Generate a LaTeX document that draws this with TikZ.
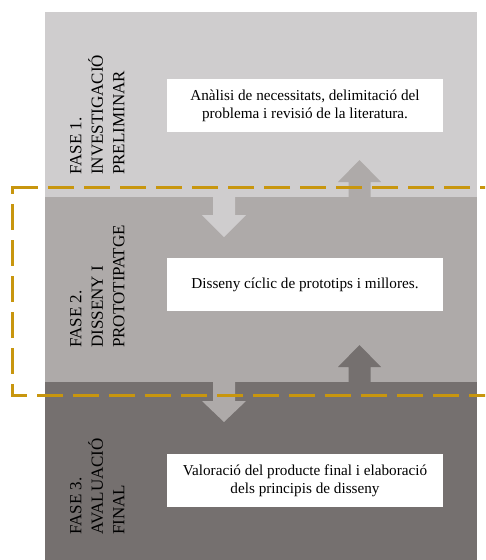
\documentclass[tikz,border=0pt]{standalone}
\usepackage{fontspec}
\setmainfont{Liberation Serif}
\definecolor{bandA}{RGB}{207,205,206}
\definecolor{bandB}{RGB}{174,170,169}
\definecolor{bandC}{RGB}{117,112,111}
\definecolor{gold}{RGB}{200,150,14}
\tikzset{
  band/.style={draw=none, inner sep=0, outer sep=0},
  textbox/.style={fill=white, draw=none, minimum width=276pt, minimum height=53pt, align=center, inner sep=0,
    font=\fontsize{15.2}{18}\selectfont},
  phaselabel/.style={rotate=90, anchor=north west, align=left, inner sep=0,
    font=\fontsize{17}{21.5}\selectfont},
  golddash/.style={draw=gold, line width=3pt, dash pattern=on 26pt off 10pt}
}
\begin{document}
\begin{tikzpicture}[x=1pt,y=-1pt]
\useasboundingbox (0,0) rectangle (485,560);
\clip (0,0) rectangle (485,560);
% bands
\node[band, fill=bandA, minimum width=432pt, minimum height=185pt, anchor=north west] (b1) at (45,12) {};
\node[band, fill=bandB, minimum width=432pt, minimum height=185pt, anchor=north west] (b2) at (45,197) {};
\node[band, fill=bandC, minimum width=432pt, minimum height=178pt, anchor=north west] (b3) at (45,382) {};
% block arrows
\fill[bandA] (213,197) -- (213,215) -- (202,215) -- (224,237) -- (246,215) -- (235,215) -- (235,197) -- cycle;
\fill[bandB] (348.5,197) -- (348.5,182) -- (338,182) -- (359.5,160) -- (381,182) -- (370.5,182) -- (370.5,197) -- cycle;
\fill[bandC] (348.5,382) -- (348.5,367) -- (338,367) -- (359.5,345) -- (381,367) -- (370.5,367) -- (370.5,382) -- cycle;
\fill[bandB] (213,382) -- (213,401) -- (202,401) -- (224,422) -- (246,401) -- (235,401) -- (235,382) -- cycle;
% text boxes
\node[textbox] (t1) at (305,105.5) {Anàlisi de necessitats, delimitació del\\problema i revisió de la literatura.};
\node[textbox] (t2) at (305,284.5) {Disseny cíclic de prototips i millores.};
\node[textbox] (t3) at (305,480.5) {Valoració del producte final i elaboració\\dels principis de disseny};
% phase labels
\node[phaselabel] (l1) at (70,175) {FASE 1.\\INVESTIGACIÓ\\PRELIMINAR};
\node[phaselabel] (l2) at (70,348) {FASE 2.\\DISSENY I\\PROTOTIPATGE};
\node[phaselabel] (l3) at (70,535) {FASE 3.\\AVALUACIÓ\\FINAL};
% dashed frame
\draw[golddash, dash phase=0pt] (12,187.5) -- (495,187.5);
\draw[golddash, dash phase=18pt] (12,186) -- (12,396.5);
\draw[golddash, dash phase=11pt] (12,395) -- (495,395);
\end{tikzpicture}
\end{document}
